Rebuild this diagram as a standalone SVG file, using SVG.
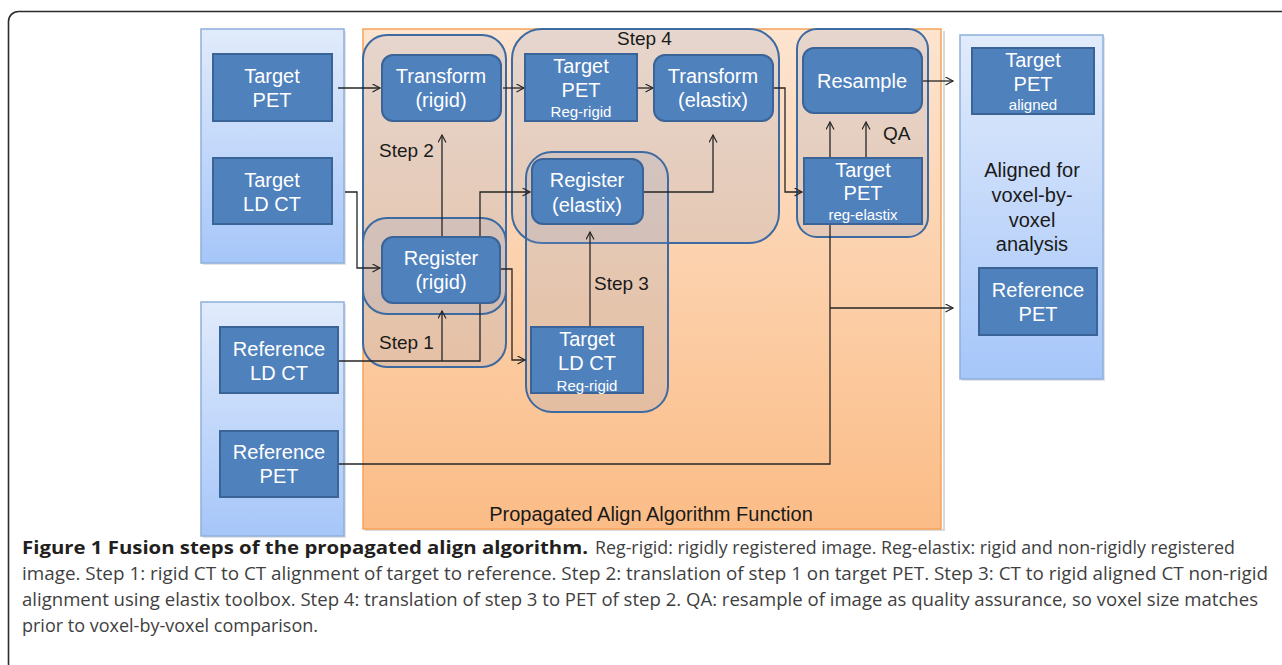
<svg xmlns="http://www.w3.org/2000/svg" width="1282" height="665" viewBox="0 0 1282 665">
<defs>
<linearGradient id="gBlue" x1="0" y1="0" x2="0" y2="1">
<stop offset="0" stop-color="#e1ebfb"/>
<stop offset="1" stop-color="#a6c6f9"/>
</linearGradient>
<linearGradient id="gOrange" x1="0" y1="0" x2="0" y2="1">
<stop offset="0" stop-color="#fde4cf"/>
<stop offset="1" stop-color="#fbbc86"/>
</linearGradient>
<marker id="arr" markerUnits="userSpaceOnUse" markerWidth="12" markerHeight="12" refX="8" refY="4.5" orient="auto">
<path d="M0.5,0.5 L8,4.5 L0.5,8.5" fill="none" stroke="#262626" stroke-width="1.2"/>
</marker>
<style>
.panel{fill:url(#gBlue);stroke:#8eb0dc;stroke-width:1.5}
.grp{fill:#8ea0c8;fill-opacity:0.2;stroke:#3d6aa0;stroke-width:2}
.node{fill:#4f81bd;stroke:#3a6398;stroke-width:2}
.t{font-family:"Liberation Sans",Arial,sans-serif;font-size:20px;fill:#ffffff;text-anchor:middle}
.s{font-family:"Liberation Sans",Arial,sans-serif;font-size:15px;fill:#ffffff;text-anchor:middle}
.k{font-family:"Liberation Sans",Arial,sans-serif;font-size:19px;fill:#1a1a1a}
.kc{font-family:"Liberation Sans",Arial,sans-serif;font-size:20px;fill:#1a1a1a;text-anchor:middle}
.cap{font-family:"Open Sans","Liberation Sans",sans-serif;font-size:18px;fill:#3f3f3f}
.capb{font-family:"Open Sans","Liberation Sans",sans-serif;font-size:18px;font-weight:bold;fill:#231f20}
.c{fill:none;stroke:#262626;stroke-width:1.3}
.ca{fill:none;stroke:#262626;stroke-width:1.3;marker-end:url(#arr)}
</style>
</defs>
<rect x="0" y="0" width="1282" height="665" fill="#ffffff"/>
<rect id="frame" x="8.5" y="11.5" width="1300" height="662" rx="10" fill="none" stroke="#2b2b2b" stroke-width="1.6"/>

<g id="panels">
<rect x="203" y="31" width="143" height="234" fill="#c8c8c8" opacity="0.5"/>
<rect class="panel" x="201" y="29" width="143" height="234"/>
<rect x="203" y="304" width="143" height="234" fill="#c8c8c8" opacity="0.5"/>
<rect class="panel" x="201" y="302" width="143" height="234"/>
<rect x="943" y="31" width="2" height="500" fill="#d9d9d9"/>
<rect x="365" y="529" width="578" height="2" fill="#d9d9d9"/>
<rect x="363" y="29" width="578" height="500" fill="url(#gOrange)" stroke="#f6a25a" stroke-width="1.5"/>
<rect x="962" y="37" width="143" height="344" fill="#c8c8c8" opacity="0.5"/>
<rect class="panel" x="960" y="35" width="143" height="344"/>
</g>

<g id="groups">
<rect id="grp-step12" class="grp" x="363" y="35" width="143" height="332" rx="24"/>
<rect id="grp-step1" class="grp" x="363" y="218" width="143" height="96" rx="24"/>
<rect id="grp-step4" class="grp" x="512" y="29" width="267" height="214" rx="30"/>
<rect id="grp-step3" class="grp" x="526" y="152" width="142" height="260" rx="26"/>
<rect id="grp-qa" class="grp" x="797" y="29" width="131" height="208" rx="20"/>
</g>

<g id="connectors">
<path class="ca" d="M338,88 H380"/>
<path class="ca" d="M503,88 H524"/>
<path class="ca" d="M345,192 H357 V268 H380"/>
<path class="ca" d="M442,237 V135"/>
<path class="ca" d="M338,361 H480 V192 H530"/>
<path class="ca" d="M442,361 V311"/>
<path class="ca" d="M500,269 H512 V360 H525"/>
<path class="ca" d="M590,327 V232"/>
<path class="ca" d="M643,192 H713 V135"/>
<path class="ca" d="M637,88 H653"/>
<path class="ca" d="M773,88 H785 V192 H802"/>
<path class="ca" d="M830,158 V122"/>
<path class="ca" d="M866,158 V122"/>
<path class="ca" d="M922,81 H953"/>
<path class="c" d="M338,464 H830 V224"/>
<path class="ca" d="M830,308 H953"/>
</g>

<g id="target-pet">
<rect class="node" x="213" y="54" width="119" height="67"/>
<text class="t" x="272" y="83">Target</text>
<text class="t" x="272" y="107">PET</text>
</g>
<g id="target-ldct">
<rect class="node" x="213" y="158" width="119" height="66"/>
<text class="t" x="272" y="187">Target</text>
<text class="t" x="272" y="211">LD CT</text>
</g>
<g id="reference-ldct">
<rect class="node" x="220" y="327" width="118" height="66"/>
<text class="t" x="279" y="356">Reference</text>
<text class="t" x="279" y="380">LD CT</text>
</g>
<g id="reference-pet">
<rect class="node" x="220" y="431" width="118" height="66"/>
<text class="t" x="279" y="459">Reference</text>
<text class="t" x="279" y="483">PET</text>
</g>
<g id="transform-rigid">
<rect class="node" x="382" y="55" width="119" height="66" rx="11"/>
<text class="t" x="441" y="83">Transform</text>
<text class="t" x="441" y="107">(rigid)</text>
</g>
<g id="register-rigid">
<rect class="node" x="382" y="237" width="118" height="66" rx="11"/>
<text class="t" x="441" y="265">Register</text>
<text class="t" x="441" y="289">(rigid)</text>
</g>
<g id="target-pet-regrigid">
<rect class="node" x="525" y="54" width="112" height="67"/>
<text class="t" x="581" y="73">Target</text>
<text class="t" x="581" y="97">PET</text>
<text class="s" x="581" y="117">Reg-rigid</text>
</g>
<g id="transform-elastix">
<rect class="node" x="654" y="55" width="119" height="66" rx="11"/>
<text class="t" x="713" y="83">Transform</text>
<text class="t" x="713" y="107">(elastix)</text>
</g>
<g id="register-elastix">
<rect class="node" x="532" y="159" width="111" height="65" rx="11"/>
<text class="t" x="587" y="187">Register</text>
<text class="t" x="587" y="212">(elastix)</text>
</g>
<g id="target-ldct-regrigid">
<rect class="node" x="531" y="327" width="112" height="66"/>
<text class="t" x="587" y="346">Target</text>
<text class="t" x="587" y="370">LD CT</text>
<text class="s" x="587" y="391">Reg-rigid</text>
</g>
<g id="resample">
<rect class="node" x="803" y="48" width="119" height="65" rx="11"/>
<text class="t" x="862" y="88">Resample</text>
</g>
<g id="target-pet-regelastix">
<rect class="node" x="804" y="158" width="118" height="66"/>
<text class="t" x="863" y="177">Target</text>
<text class="t" x="863" y="200">PET</text>
<text class="s" x="863" y="220">reg-elastix</text>
</g>
<g id="target-pet-aligned">
<rect class="node" x="972" y="48" width="122" height="66"/>
<text class="t" x="1033" y="67">Target</text>
<text class="t" x="1033" y="91">PET</text>
<text class="s" x="1033" y="110">aligned</text>
</g>
<g id="reference-pet-right">
<rect class="node" x="979" y="268" width="118" height="67"/>
<text class="t" x="1038" y="297">Reference</text>
<text class="t" x="1038" y="321">PET</text>
</g>

<g id="labels">
<text class="k" x="617" y="45">Step 4</text>
<text class="k" x="379" y="157">Step 2</text>
<text class="k" x="379" y="349">Step 1</text>
<text class="k" x="594" y="290">Step 3</text>
<text class="k" x="883" y="140">QA</text>
<text class="kc" x="1032" y="177">Aligned for</text>
<text class="kc" x="1032" y="202">voxel-by-</text>
<text class="kc" x="1032" y="227">voxel</text>
<text class="kc" x="1032" y="251">analysis</text>
<text class="kc" x="651" y="521">Propagated Align Algorithm Function</text>
</g>

<g id="caption">
<text class="capb" x="22" y="554" textLength="566" lengthAdjust="spacingAndGlyphs">Figure 1 Fusion steps of the propagated align algorithm.</text>
<text class="cap" x="595" y="554" textLength="640" lengthAdjust="spacingAndGlyphs">Reg-rigid: rigidly registered image. Reg-elastix: rigid and non-rigidly registered</text>
<text class="cap" x="22" y="580" textLength="1246" lengthAdjust="spacingAndGlyphs">image. Step 1: rigid CT to CT alignment of target to reference. Step 2: translation of step 1 on target PET. Step 3: CT to rigid aligned CT non-rigid</text>
<text class="cap" x="22" y="606" textLength="1236" lengthAdjust="spacingAndGlyphs">alignment using elastix toolbox. Step 4: translation of step 3 to PET of step 2. QA: resample of image as quality assurance, so voxel size matches</text>
<text class="cap" x="22" y="632" textLength="296" lengthAdjust="spacingAndGlyphs">prior to voxel-by-voxel comparison.</text>
</g>
</svg>
